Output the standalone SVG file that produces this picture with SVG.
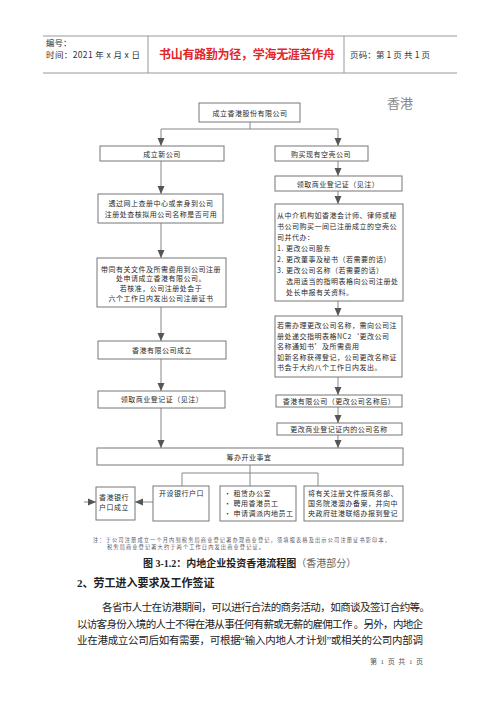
<svg xmlns="http://www.w3.org/2000/svg" width="500" height="707" viewBox="0 0 500 707">
<defs>
<marker id="ah" markerUnits="userSpaceOnUse" markerWidth="8" markerHeight="8" viewBox="0 0 8 8" refX="8" refY="4" orient="auto">
<path d="M0,0.5 L8,4 L0,7.5 Z" fill="#555"/>
</marker>
<style>
.bx{fill:#fff;stroke:#777;stroke-width:1}
.ln{fill:none;stroke:#888;stroke-width:1}
.hl{fill:none;stroke:#999;stroke-width:1}
.t{font-family:"Noto Sans CJK SC","Noto Sans",sans-serif;font-size:7px;fill:#2a2a2a;letter-spacing:0.5px}
.c{text-anchor:middle}
.h{font-family:"Noto Sans CJK SC","Liberation Sans",sans-serif;font-size:8.5px;fill:#333}
.p{font-family:"Liberation Serif","Noto Sans CJK SC",serif;font-size:10.5px;fill:#222}
.n{font-family:"Noto Sans CJK SC",sans-serif;font-size:5.2px;fill:#556}
</style>
</defs>
<rect width="500" height="707" fill="#fff"/>

<g id="header">
<line class="hl" x1="43" y1="36" x2="457" y2="36"/>
<line class="hl" x1="43" y1="73" x2="457" y2="73"/>
<line class="hl" x1="148" y1="36" x2="148" y2="73"/>
<line class="hl" x1="344" y1="36" x2="344" y2="73"/>
<text class="h" x="46" y="46">编号：</text>
<text class="h" x="46" y="58" textLength="94">时间：2021 年 x 月 x 日</text>
<text x="247" y="59" text-anchor="middle" font-family="Liberation Serif,Noto Sans CJK SC,serif" font-size="12" font-weight="bold" fill="#e3262a" textLength="176">书山有路勤为径，学海无涯苦作舟</text>
<text class="h" x="350" y="58" textLength="80">页码：第 1 页 共 1 页</text>
</g>

<text x="387" y="108" font-family="Liberation Serif,Noto Sans CJK SC,serif" font-size="13" fill="#888">香港</text>

<g id="connectors">
<path class="ln" d="M250,122 V129"/>
<path class="ln" d="M250,129 H161 V146" marker-end="url(#ah)"/>
<path class="ln" d="M250,129 H338 V146" marker-end="url(#ah)"/>
<path class="ln" d="M161,161 V194" marker-end="url(#ah)"/>
<path class="ln" d="M161,223 V258" marker-end="url(#ah)"/>
<path class="ln" d="M161,307 V341" marker-end="url(#ah)"/>
<path class="ln" d="M161,359 V391" marker-end="url(#ah)"/>
<path class="ln" d="M161,408 V448" marker-end="url(#ah)"/>
<path class="ln" d="M338,161 V176" marker-end="url(#ah)"/>
<path class="ln" d="M338,191 V204" marker-end="url(#ah)"/>
<path class="ln" d="M338,301 V316" marker-end="url(#ah)"/>
<path class="ln" d="M338,377 V395" marker-end="url(#ah)"/>
<path class="ln" d="M338,407 V423" marker-end="url(#ah)"/>
<path class="ln" d="M338,435 V448" marker-end="url(#ah)"/>
<path class="ln" d="M250,465 V486"/>
<path class="ln" d="M182,486 V473 H318 V486"/>
<path class="ln" d="M153,502 H135" marker-end="url(#ah)"/>
<path class="ln" d="M84,502 H96" marker-end="url(#ah)"/>
</g>

<g id="n_top">
<rect class="bx" x="199" y="103" width="101" height="19"/>
<text class="t c" x="250" y="115.5">成立香港股份有限公司</text>
</g>
<g id="n_new">
<rect class="bx" x="100" y="146" width="124" height="15"/>
<text class="t c" x="162" y="156.5">成立新公司</text>
</g>
<g id="n_buy">
<rect class="bx" x="275" y="146" width="93" height="15"/>
<text class="t c" x="321" y="156.5">购买现有空壳公司</text>
</g>
<g id="n_check">
<rect class="bx" x="98" y="194" width="125" height="29"/>
<text class="t c" x="161" y="206">透过网上查册中心或亲身到公司</text>
<text class="t c" x="161" y="217">注册处查核拟用公司名称是否可用</text>
</g>
<g id="n_apply">
<rect class="bx" x="97" y="258" width="129" height="49"/>
<text class="t c" x="161" y="271.5">带同有关文件及所需费用到公司注册</text>
<text class="t c" x="161" y="281">处申请成立香港有限公司。</text>
<text class="t c" x="161" y="290.5">若核准，公司注册处会于</text>
<text class="t c" x="161" y="300.5">六个工作日内发出公司注册证书</text>
</g>
<g id="n_ltd">
<rect class="bx" x="98" y="341" width="128" height="18"/>
<text class="t c" x="162" y="352.5">香港有限公司成立</text>
</g>
<g id="n_br_l">
<rect class="bx" x="98" y="391" width="127" height="17"/>
<text class="t c" x="162" y="402">领取商业登记证（见注）</text>
</g>
<g id="n_br_r">
<rect class="bx" x="275" y="176" width="127" height="15"/>
<text class="t c" x="338" y="186.5">领取商业登记证（见注）</text>
</g>
<g id="n_agent">
<rect class="bx" x="275" y="204" width="128" height="97"/>
<text class="t" x="277" y="217.5">从中介机构如香港会计师、律师或秘</text>
<text class="t" x="277" y="228.5">书公司购买一间已注册成立的空壳公</text>
<text class="t" x="277" y="239.5">司并代办：</text>
<text class="t" x="277" y="250.5">1. 更改公司股东</text>
<text class="t" x="277" y="261.5">2. 更改董事及秘书（若需要的话）</text>
<text class="t" x="277" y="272.5">3. 更改公司名称（若需要的话）</text>
<text class="t" x="286" y="283.5">选用适当的指明表格向公司注册处</text>
<text class="t" x="286" y="294.5">处长申报有关资料。</text>
</g>
<g id="n_rename">
<rect class="bx" x="275" y="316" width="127" height="61"/>
<text class="t" x="277" y="327.5">若需办理更改公司名称，需向公司注</text>
<text class="t" x="277" y="338.5">册处递交指明表格NC2‘更改公司</text>
<text class="t" x="277" y="349">名称通知书’及所需费用</text>
<text class="t" x="277" y="359.5">如新名称获得登记，公司更改名称证</text>
<text class="t" x="277" y="370">书会于大约八个工作日内发出。</text>
</g>
<g id="n_ltd2">
<rect class="bx" x="276" y="395" width="126" height="12"/>
<text class="t c" x="339" y="403.5">香港有限公司（更改公司名称后）</text>
</g>
<g id="n_changebr">
<rect class="bx" x="277" y="423" width="125" height="12"/>
<text class="t c" x="339" y="431.5">更改商业登记证内的公司名称</text>
</g>
<g id="n_prep">
<rect class="bx" x="97" y="448" width="306" height="17"/>
<text class="t c" x="249" y="459.5">筹办开业事宜</text>
</g>
<g id="n_hkbank">
<rect class="bx" x="96" y="487" width="39" height="33"/>
<text class="t" x="99" y="499.5">香港银行</text>
<text class="t" x="99" y="509.5">户口成立</text>
</g>
<g id="n_openacc">
<rect class="bx" x="153" y="486" width="56" height="35"/>
<text class="t" x="159" y="495.5">开设银行户口</text>
</g>
<g id="n_office">
<rect class="bx" x="220" y="486" width="76" height="35"/>
<text class="t" x="224" y="495.5">• 租赁办公室</text>
<text class="t" x="224" y="505.5">• 聘用香港员工</text>
<text class="t" x="224" y="515.5">• 申请调派内地员工</text>
</g>
<g id="n_register">
<rect class="bx" x="304" y="486" width="99" height="35"/>
<text class="t" x="308" y="495.5">将有关注册文件报商务部、</text>
<text class="t" x="308" y="505.5">国务院港澳办备案，并向中</text>
<text class="t" x="308" y="515.5">央政府驻港联络办报到登记</text>
</g>

<text class="n" x="93" y="542" textLength="297">注：于公司注册成立一个月内到税务局商业登记署办理商业登记，须填报表格及出示公司注册证书影印本，</text>
<text class="n" x="107" y="549" textLength="157">税务局商业登记署大约于两个工作日内发出商业登记证。</text>

<text x="143" y="567" font-family="Liberation Serif,Noto Sans CJK SC,serif" font-size="10" fill="#222"><tspan font-weight="bold">图 3-1.2：内地企业投资香港流程图</tspan><tspan fill="#666">（香港部分）</tspan></text>

<text x="77" y="587" font-family="Liberation Serif,Noto Sans CJK SC,serif" font-size="11" font-weight="bold" fill="#222">2、劳工进入要求及工作签证</text>

<text class="p" x="102" y="611" textLength="328">各省市人士在访港期间，可以进行合法的商务活动，如商谈及签订合约等。</text>
<text class="p" x="77" y="628" textLength="346">以访客身份入境的人士不得在港从事任何有薪或无薪的雇佣工作 。另外，内地企</text>
<text class="p" x="77" y="644" textLength="346">业在港成立公司后如有需要，可根据“输入内地人才计划”或相关的公司内部调</text>

<text x="370" y="664" font-family="Liberation Serif,Noto Sans CJK SC,serif" font-size="7" fill="#555" textLength="53">第 1 页 共 1 页</text>
</svg>
